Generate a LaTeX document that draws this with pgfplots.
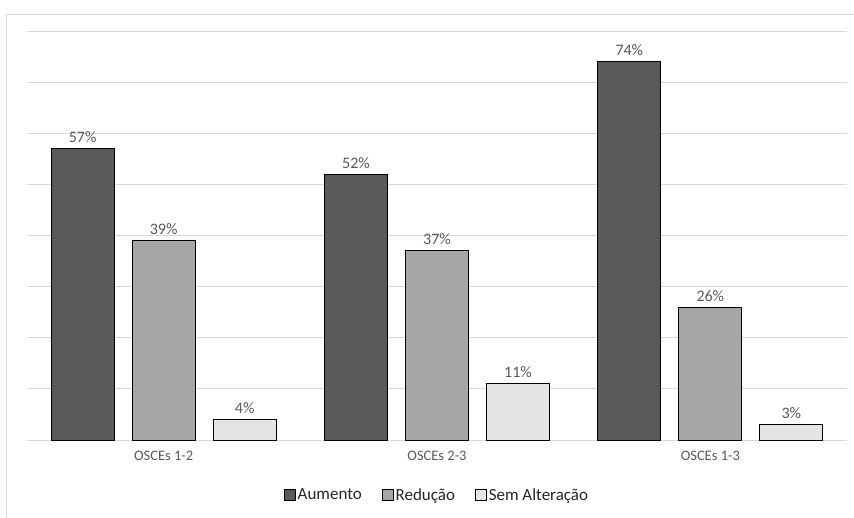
\documentclass[border=0pt]{standalone}
\usepackage{pgfplots}
\pgfplotsset{compat=1.18}
\usepackage{fontspec}
\setmainfont{Carlito}
\definecolor{txt}{HTML}{595959}
\definecolor{cA}{HTML}{595959}
\definecolor{cB}{HTML}{A6A6A6}
\definecolor{cC}{HTML}{E4E4E4}
\definecolor{gridc}{HTML}{D9D9D9}
\begin{document}
\begin{tikzpicture}[x=1pt,y=1pt]
\useasboundingbox (-27,-78) rectangle (827,440);
\begin{axis}[
  at={(0,0)}, anchor=south west,
  scale only axis, width=820pt, height=409pt,
  xmin=-0.5, xmax=2.5, ymin=0, ymax=80,
  ybar=18pt, bar width=63pt,
  xtick={0,1,2}, xticklabels={OSCEs 1-2,OSCEs 2-3,OSCEs 1-3},
  major tick length=0pt,
  ytick={0,10,...,80}, yticklabels={},
  ymajorgrids, xmajorgrids=false,
  grid style={draw=gridc, line width=0.8pt},
  axis lines=left, axis line style={draw=none},
  /pgf/number format/assume math mode=true,
  xticklabel style={font=\fontsize{14.5}{16}\selectfont, text=txt, yshift=-8pt},
  nodes near coords={\pgfmathprintnumber{\pgfplotspointmeta}\%},
  nodes near coords style={font=\fontsize{16}{18}\selectfont, text=txt, yshift=2pt},
  legend columns=3,
  legend style={at={(0.5,-55pt)}, anchor=center, draw=none, fill=none,
    font=\fontsize{17}{19}\selectfont, text=black!85,
    /tikz/every even column/.append style={column sep=18pt}},
  legend image code/.code={\draw[#1, draw=black, line width=0.8pt] (2pt,-5.5pt) rectangle (13pt,5.5pt);},
  clip=false,
]
\addplot[fill=cA, draw=black, line width=0.8pt] coordinates {(0,57) (1,52) (2,74)};
\addplot[fill=cB, draw=black, line width=0.8pt] coordinates {(0,39) (1,37) (2,26)};
\addplot[fill=cC, draw=black, line width=0.8pt] coordinates {(0,4) (1,11) (2,3)};
\legend{Aumento, Redução, Sem Alteração}
\end{axis}
\draw[black!15, line width=0.8pt] (-21,-80) rectangle (840,426);
\end{tikzpicture}
\end{document}
